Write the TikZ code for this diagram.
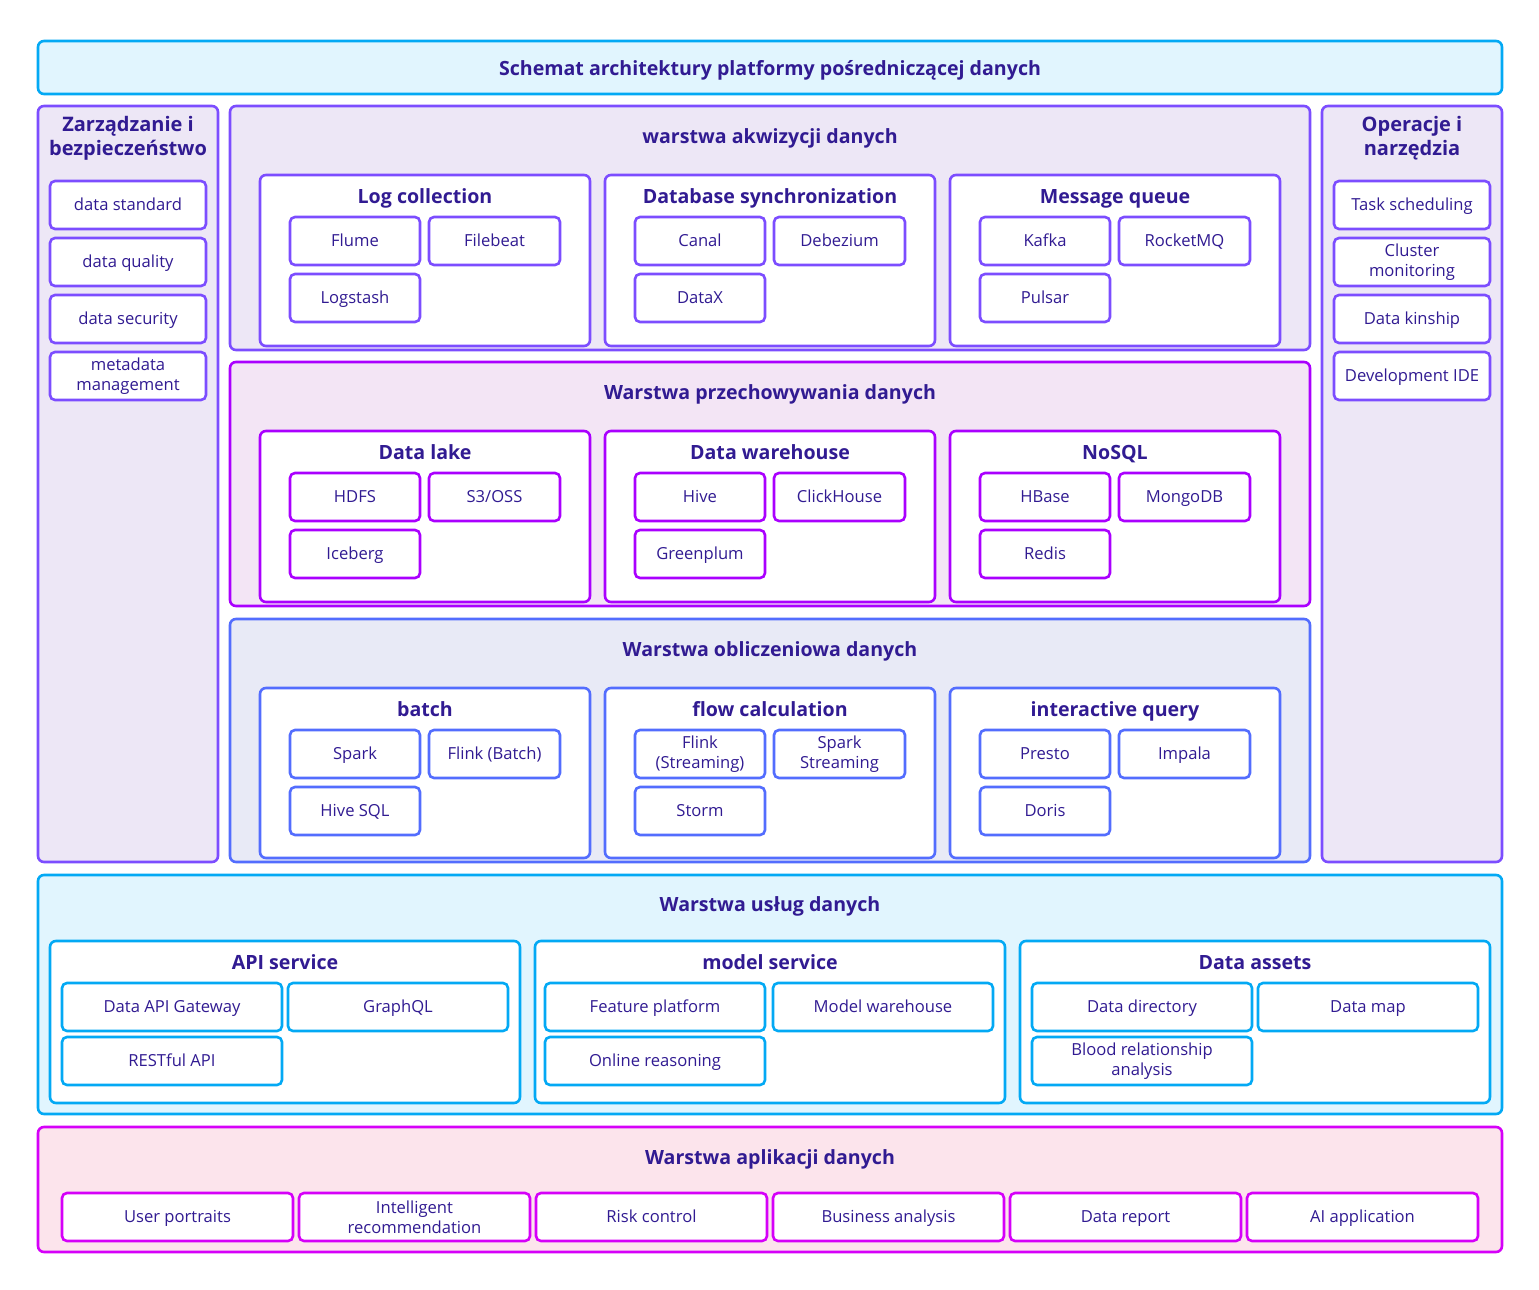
\documentclass[tikz,border=0pt]{standalone}
\usepackage{fontspec}
\setmainfont{Open Sans}
\definecolor{txt}{HTML}{311B92}
\definecolor{cy}{HTML}{03A9F4}
\definecolor{cyf}{HTML}{E1F5FE}
\definecolor{pu}{HTML}{7C4DFF}
\definecolor{puf}{HTML}{EDE7F6}
\definecolor{st}{HTML}{AA00FF}
\definecolor{stf}{HTML}{F3E5F5}
\definecolor{co}{HTML}{536DFE}
\definecolor{cof}{HTML}{E8EAF6}
\definecolor{ap}{HTML}{D500F9}
\definecolor{apf}{HTML}{FCE4EC}
\newcommand\bx[7]{\node[#6, minimum width={(#4-#2)*1pt}, minimum height={(#5-#3)*1pt}] (#1) at ({(#2+#4)/2},{(#3+#5)/2}) {#7};}
\tikzset{
  base/.style={draw, rounded corners=6pt, line width=2.6pt, inner sep=0pt, text=txt},
  item/.style={base, fill=white, rounded corners=5pt, align=center, font=\fontsize{16.6}{20}\selectfont, text height=13pt, text depth=1.5pt},
  item2/.style={item, text height=, text depth=},
  grp/.style={base, fill=white},
  ttl/.style={text=txt, inner sep=0pt, align=center, font=\bfseries\fontsize{19.6}{23}\selectfont, text height=15pt, text depth=2pt},
  sttl/.style={text=txt, inner sep=0pt, align=center, font=\bfseries\fontsize{19.6}{23}\selectfont, text height=15pt, text depth=2pt},
  ctl/.style={text=txt, inner sep=0pt, align=center, font=\bfseries\fontsize{20}{24}\selectfont},
}
\begin{document}
\begin{tikzpicture}[x=1pt,y=-1pt]
\useasboundingbox[fill=white] (0,0) rectangle (1539,1290);
% title
\bx{top}{38}{41}{1502}{94}{base, draw=cy, fill=cyf}{}
\node[ttl] (toptxt) at (770,69) {Schemat architektury platformy pośredniczącej danych};
% left column
\bx{left}{38}{106}{218}{862}{base, draw=pu, fill=puf}{}
\node[ctl] (lefttxt) at (128,138) {Zarządzanie i\\bezpieczeństwo};
\bx{l1}{50}{181}{206}{229}{item, draw=pu}{data standard}
\bx{l2}{50}{238}{206}{286}{item, draw=pu}{data quality}
\bx{l3}{50}{295}{206}{343}{item, draw=pu}{data security}
\bx{l4}{50}{352}{206}{400}{item2, draw=pu}{metadata\\management}
% right column
\bx{right}{1322}{106}{1502}{862}{base, draw=pu, fill=puf}{}
\node[ctl] (righttxt) at (1412,138) {Operacje i\\narzędzia};
\bx{r1}{1334}{181}{1490}{229}{item, draw=pu}{Task scheduling}
\bx{r2}{1334}{238}{1490}{286}{item2, draw=pu}{Cluster\\monitoring}
\bx{r3}{1334}{295}{1490}{343}{item, draw=pu}{Data kinship}
\bx{r4}{1334}{352}{1490}{400}{item, draw=pu}{Development IDE}
% acquisition
\bx{acq}{230}{106}{1310}{350}{base, draw=pu, fill=puf}{}
\node[ttl] (acqtxt) at (770,137) {warstwa akwizycji danych};
\bx{g11}{260}{175}{590}{346}{grp, draw=pu}{}
\node[sttl] (g11t) at (425,197) {Log collection};
\bx{a1}{290}{217}{420}{265}{item, draw=pu}{Flume}
\bx{a2}{429}{217}{560}{265}{item, draw=pu}{Filebeat}
\bx{a3}{290}{274}{420}{322}{item, draw=pu}{Logstash}
\bx{g12}{605}{175}{935}{346}{grp, draw=pu}{}
\node[sttl] (g12t) at (770,197) {Database synchronization};
\bx{a4}{635}{217}{765}{265}{item, draw=pu}{Canal}
\bx{a5}{774}{217}{905}{265}{item, draw=pu}{Debezium}
\bx{a6}{635}{274}{765}{322}{item, draw=pu}{DataX}
\bx{g13}{950}{175}{1280}{346}{grp, draw=pu}{}
\node[sttl] (g13t) at (1115,197) {Message queue};
\bx{a7}{980}{217}{1110}{265}{item, draw=pu}{Kafka}
\bx{a8}{1119}{217}{1250}{265}{item, draw=pu}{RocketMQ}
\bx{a9}{980}{274}{1110}{322}{item, draw=pu}{Pulsar}
% storage
\bx{sto}{230}{362}{1310}{606}{base, draw=st, fill=stf}{}
\node[ttl] (stotxt) at (770,393) {Warstwa przechowywania danych};
\bx{g21}{260}{431}{590}{602}{grp, draw=st}{}
\node[sttl] (g21t) at (425,453) {Data lake};
\bx{s1}{290}{473}{420}{521}{item, draw=st}{HDFS}
\bx{s2}{429}{473}{560}{521}{item, draw=st}{S3/OSS}
\bx{s3}{290}{530}{420}{578}{item, draw=st}{Iceberg}
\bx{g22}{605}{431}{935}{602}{grp, draw=st}{}
\node[sttl] (g22t) at (770,453) {Data warehouse};
\bx{s4}{635}{473}{765}{521}{item, draw=st}{Hive}
\bx{s5}{774}{473}{905}{521}{item, draw=st}{ClickHouse}
\bx{s6}{635}{530}{765}{578}{item, draw=st}{Greenplum}
\bx{g23}{950}{431}{1280}{602}{grp, draw=st}{}
\node[sttl] (g23t) at (1115,453) {NoSQL};
\bx{s7}{980}{473}{1110}{521}{item, draw=st}{HBase}
\bx{s8}{1119}{473}{1250}{521}{item, draw=st}{MongoDB}
\bx{s9}{980}{530}{1110}{578}{item, draw=st}{Redis}
% compute
\bx{cmp}{230}{619}{1310}{862}{base, draw=co, fill=cof}{}
\node[ttl] (cmptxt) at (770,650) {Warstwa obliczeniowa danych};
\bx{g31}{260}{688}{590}{858}{grp, draw=co}{}
\node[sttl] (g31t) at (425,710) {batch};
\bx{c1}{290}{730}{420}{778}{item, draw=co}{Spark}
\bx{c2}{429}{730}{560}{778}{item, draw=co}{Flink (Batch)}
\bx{c3}{290}{787}{420}{835}{item, draw=co}{Hive SQL}
\bx{g32}{605}{688}{935}{858}{grp, draw=co}{}
\node[sttl] (g32t) at (770,710) {flow calculation};
\bx{c4}{635}{730}{765}{778}{item2, draw=co}{Flink\\(Streaming)}
\bx{c5}{774}{730}{905}{778}{item2, draw=co}{Spark\\Streaming}
\bx{c6}{635}{787}{765}{835}{item, draw=co}{Storm}
\bx{g33}{950}{688}{1280}{858}{grp, draw=co}{}
\node[sttl] (g33t) at (1115,710) {interactive query};
\bx{c7}{980}{730}{1110}{778}{item, draw=co}{Presto}
\bx{c8}{1119}{730}{1250}{778}{item, draw=co}{Impala}
\bx{c9}{980}{787}{1110}{835}{item, draw=co}{Doris}
% service
\bx{srv}{38}{875}{1502}{1114}{base, draw=cy, fill=cyf}{}
\node[ttl] (srvtxt) at (770,905) {Warstwa usług danych};
\bx{g41}{50}{941}{520}{1103}{grp, draw=cy}{}
\node[sttl] (g41t) at (285,963) {API service};
\bx{v1}{62}{983}{282}{1031}{item, draw=cy}{Data API Gateway}
\bx{v2}{288}{983}{508}{1031}{item, draw=cy}{GraphQL}
\bx{v3}{62}{1037}{282}{1085}{item, draw=cy}{RESTful API}
\bx{g42}{535}{941}{1005}{1103}{grp, draw=cy}{}
\node[sttl] (g42t) at (770,963) {model service};
\bx{v4}{545}{983}{765}{1031}{item, draw=cy}{Feature platform}
\bx{v5}{773}{983}{993}{1031}{item, draw=cy}{Model warehouse}
\bx{v6}{545}{1037}{765}{1085}{item, draw=cy}{Online reasoning}
\bx{g43}{1020}{941}{1490}{1103}{grp, draw=cy}{}
\node[sttl] (g43t) at (1255,963) {Data assets};
\bx{v7}{1032}{983}{1252}{1031}{item, draw=cy}{Data directory}
\bx{v8}{1258}{983}{1478}{1031}{item, draw=cy}{Data map}
\bx{v9}{1032}{1037}{1252}{1085}{item2, draw=cy}{Blood relationship\\analysis}
% application
\bx{app}{38}{1127}{1502}{1252}{base, draw=ap, fill=apf}{}
\node[ttl] (apptxt) at (770,1158) {Warstwa aplikacji danych};
\bx{p1}{62}{1193}{293}{1241}{item, draw=ap}{User portraits}
\bx{p2}{299}{1193}{530}{1241}{item2, draw=ap}{Intelligent\\recommendation}
\bx{p3}{536}{1193}{767}{1241}{item, draw=ap}{Risk control}
\bx{p4}{773}{1193}{1004}{1241}{item, draw=ap}{Business analysis}
\bx{p5}{1010}{1193}{1241}{1241}{item, draw=ap}{Data report}
\bx{p6}{1247}{1193}{1478}{1241}{item, draw=ap}{AI application}
\end{tikzpicture}
\end{document}
